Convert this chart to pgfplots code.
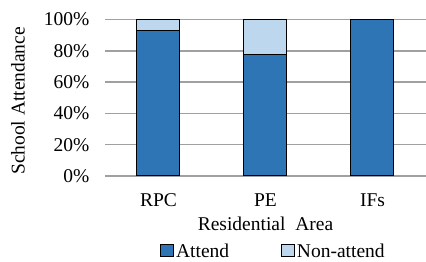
\documentclass[border=0pt]{standalone}
\usepackage{pgfplots}
\pgfplotsset{compat=1.18}
\usepackage{fontspec}
\setmainfont{Liberation Serif}
\definecolor{attend}{HTML}{2E75B6}
\definecolor{nonattend}{HTML}{BDD7EE}
\definecolor{gridgray}{HTML}{A0A0A0}
\newcommand{\ff}{\fontsize{19.5}{23}\selectfont}
\begin{document}
\begin{tikzpicture}
\useasboundingbox (-105pt,-86pt) rectangle (321pt,176pt);
\begin{axis}[
  at={(0,0)}, anchor=south west,
  scale only axis,
  width=321pt, height=156.5pt,
  ybar stacked,
  bar width=43pt,
  xmin=-0.5, xmax=2.5,
  ymin=0, ymax=100,
  xtick={0,1,2},
  xticklabels={RPC,PE,IFs},
  ytick={0,20,40,60,80,100},
  yticklabels={0\%,20\%,40\%,60\%,80\%,100\%},
  ymajorgrids,
  grid style={gridgray, line width=1.5pt},
  axis line style={draw=none},
  tick style={draw=none},
  yticklabel style={anchor=east, xshift=-12pt, font=\ff},
  xticklabel style={anchor=base, yshift=-31pt, font=\ff},
  xlabel={Residential\ \ Area},
  ylabel={School Attendance},
  xlabel style={at={(axis description cs:0.5,0)}, anchor=center, yshift=-48pt, font=\ff},
  ylabel style={at={(axis description cs:0,0.48)}, anchor=center, yshift=87pt, font=\ff},
  legend style={at={(axis description cs:0.5,0)}, anchor=center, yshift=-75pt, xshift=8pt, draw=none, fill=none,
    legend columns=2, font=\ff,
    /tikz/every even column/.append style={column sep=50pt},
    legend cell align=left, inner sep=0pt},
  legend image code/.code={\draw[#1, line width=0.8pt] (0pt,-5.5pt) rectangle (13pt,7pt);},
]
\addplot[fill=attend, draw=black, line width=1pt] coordinates {(0,93.2) (1,77.8) (2,100)};
\addplot[fill=nonattend, draw=black, line width=1pt] coordinates {(0,6.8) (1,22.2) (2,0)};
\legend{Attend,Non-attend}
\end{axis}
\end{tikzpicture}
\end{document}
